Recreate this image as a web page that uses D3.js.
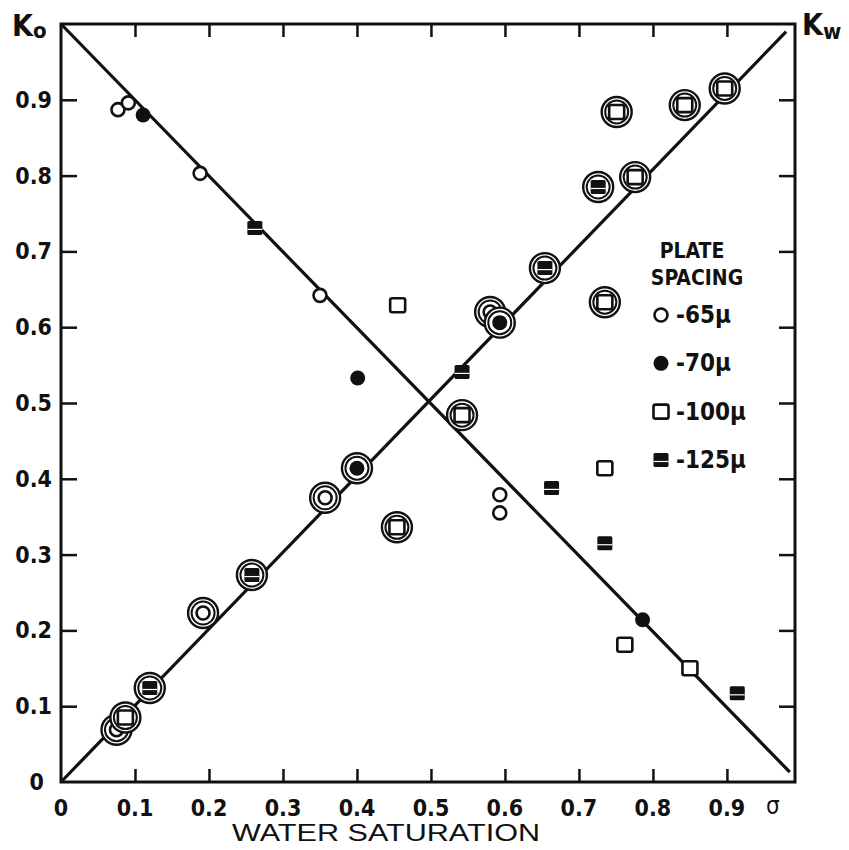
<!DOCTYPE html>
<html>
<head>
<meta charset="utf-8">
<script src="https://cdn.jsdelivr.net/npm/d3@7"></script>
<style>
  body { margin: 0; background: #fff; }
  text { font-family: "Liberation Sans Narrow", "DejaVu Sans Condensed", "Liberation Sans", sans-serif; fill: #111; }
</style>
</head>
<body>
<svg id="chart" width="849" height="850"></svg>
<script>
// Ko points (oil relative permeability), no ring
const koSw   = [0.077, 0.091, 0.111, 0.188, 0.262, 0.350, 0.401, 0.455, 0.542, 0.593, 0.593, 0.663, 0.735, 0.735, 0.786, 0.762, 0.850, 0.914];
const koVal  = [0.887, 0.896, 0.880, 0.803, 0.731, 0.642, 0.533, 0.629, 0.541, 0.379, 0.355, 0.388, 0.414, 0.315, 0.214, 0.181, 0.150, 0.117];
const koType = ["65", "65", "70", "65", "125", "65", "70", "100", "125", "65", "65", "125", "100", "125", "70", "100", "100", "125"];

// Kw points (water relative permeability), drawn with a ring
const kwSw   = [0.075, 0.087, 0.120, 0.192, 0.258, 0.357, 0.400, 0.454, 0.542, 0.580, 0.593, 0.654, 0.726, 0.735, 0.751, 0.776, 0.843, 0.897];
const kwVal  = [0.069, 0.085, 0.124, 0.223, 0.273, 0.375, 0.414, 0.336, 0.484, 0.620, 0.606, 0.678, 0.785, 0.633, 0.884, 0.798, 0.893, 0.915];
const kwType = ["65", "100", "125", "65", "125", "65", "70", "100", "100", "65", "70", "125", "125", "100", "100", "100", "100", "100"];

// straight lines
const koLine = [[0, 1], [0.985, 0.013]];
const kwLine = [[0, 0], [0.98, 0.99]];

const xTicks = [0, 0.1, 0.2, 0.3, 0.4, 0.5, 0.6, 0.7, 0.8, 0.9];
const xTickLabels = ["0", "0.1", "0.2", "0.3", "0.4", "0.5", "0.6", "0.7", "0.8", "0.9"];
const xEndLabel = {v: 0.962, t: "σ"};
const yTicks = [0, 0.1, 0.2, 0.3, 0.4, 0.5, 0.6, 0.7, 0.8, 0.9];
const yTickLabels = ["0", "0.1", "0.2", "0.3", "0.4", "0.5", "0.6", "0.7", "0.8", "0.9"];

const legendTypes = ["65", "70", "100", "125"];
const legendLabels = ["-65μ", "-70μ", "-100μ", "-125μ"];

const svg = d3.select("#chart");
const x = d3.scaleLinear().domain([0, 0.992]).range([61, 795]);
const y = d3.scaleLinear().domain([0, 1]).range([782, 24]);

// frame
svg.append("rect")
  .attr("x", x(0)).attr("y", y(1))
  .attr("width", x(0.992) - x(0)).attr("height", y(0) - y(1))
  .attr("fill", "none").attr("stroke", "#111").attr("stroke-width", 3);

// inward ticks
svg.append("g").attr("transform", `translate(0,${y(0)})`)
  .call(d3.axisTop(x).tickValues(xTicks.slice(1)).tickSize(13).tickFormat(""))
  .call(g => g.select(".domain").remove())
  .selectAll("line").attr("stroke", "#111").attr("stroke-width", 2.5);
svg.append("g").attr("transform", `translate(0,${y(1)})`)
  .call(d3.axisBottom(x).tickValues(xTicks.slice(1)).tickSize(13).tickFormat(""))
  .call(g => g.select(".domain").remove())
  .selectAll("line").attr("stroke", "#111").attr("stroke-width", 2.5);
svg.append("g").attr("transform", `translate(${x(0)},0)`)
  .call(d3.axisRight(y).tickValues(yTicks.slice(1)).tickSize(16).tickFormat(""))
  .call(g => g.select(".domain").remove())
  .selectAll("line").attr("stroke", "#111").attr("stroke-width", 2.5);
svg.append("g").attr("transform", `translate(${x(0.992)},0)`)
  .call(d3.axisLeft(y).tickValues(yTicks.slice(1)).tickSize(16).tickFormat(""))
  .call(g => g.select(".domain").remove())
  .selectAll("line").attr("stroke", "#111").attr("stroke-width", 2.5);

// tick labels
svg.append("g").selectAll("text")
  .data(xTicks)
  .enter().append("text")
    .attr("x", d => x(d))
    .attr("y", 816)
    .attr("text-anchor", "middle")
    .style("font-size", "23px")
    .style("font-weight", "bold")
    .text((d, i) => xTickLabels[i]);
svg.append("text")
  .attr("x", x(xEndLabel.v)).attr("y", 814)
  .attr("text-anchor", "middle")
  .style("font-size", "24px")
  .text(xEndLabel.t);

svg.append("g").selectAll("text")
  .data(yTicks)
  .enter().append("text")
    .attr("x", (d, i) => i === 0 ? 44 : 52)
    .attr("y", d => y(d) + 8)
    .attr("text-anchor", "end")
    .style("font-size", "23px")
    .style("font-weight", "bold")
    .text((d, i) => yTickLabels[i]);

// axis titles
const ko = svg.append("text").attr("x", 12).attr("y", 36)
  .style("font-size", "30px").style("font-weight", "bold");
ko.append("tspan").text("K");
ko.append("tspan").attr("dy", 2).style("font-size", "22px").text("o");
const kw = svg.append("text").attr("x", 802).attr("y", 35)
  .style("font-size", "30px").style("font-weight", "bold");
kw.append("tspan").text("K");
kw.append("tspan").attr("dy", 4).style("font-size", "22px").text("w");

svg.append("text")
  .attr("x", 386).attr("y", 841)
  .attr("text-anchor", "middle")
  .attr("textLength", 308).attr("lengthAdjust", "spacingAndGlyphs")
  .style("font-size", "24px")
  .style("font-family", "'Liberation Sans', sans-serif")
  .text("WATER SATURATION");

// lines
const line = d3.line().x(d => x(d[0])).y(d => y(d[1]));
[koLine, kwLine].forEach(l => {
  svg.append("path").datum(l)
    .attr("d", line)
    .attr("fill", "none").attr("stroke", "#111").attr("stroke-width", 3.2);
});

// marker drawing
function drawMarker(g, type) {
  if (type === "65") {
    g.append("circle").attr("r", 6.5).attr("fill", "#fff").attr("stroke", "#111").attr("stroke-width", 2.6);
  } else if (type === "70") {
    g.append("circle").attr("r", 7.5).attr("fill", "#111");
  } else if (type === "100") {
    g.append("rect").attr("x", -7.5).attr("y", -7).attr("width", 15).attr("height", 14).attr("rx", 2)
      .attr("fill", "#fff").attr("stroke", "#111").attr("stroke-width", 2.6);
  } else {
    g.append("rect").attr("x", -7.5).attr("y", -7).attr("width", 15).attr("height", 14).attr("rx", 1.5)
      .attr("fill", "#111");
    g.append("line").attr("x1", -7.5).attr("x2", 7.5).attr("y1", 1.5).attr("y2", 1.5)
      .attr("stroke", "#fff").attr("stroke-width", 1.2);
  }
}

const kwPts = kwSw.map((s, i) => ({sw: s, k: kwVal[i], type: kwType[i]}));
const koPts = koSw.map((s, i) => ({sw: s, k: koVal[i], type: koType[i]}));

// Kw: ring + symbol
svg.append("g").selectAll("g")
  .data(kwPts)
  .enter().append("g")
    .attr("transform", d => `translate(${x(d.sw)},${y(d.k)})`)
    .each(function(d) {
      const g = d3.select(this);
      g.append("circle").attr("r", 15).attr("fill", "#fff").attr("stroke", "#111").attr("stroke-width", 2.4);
      g.append("circle").attr("r", 11.5).attr("fill", "none").attr("stroke", "#111").attr("stroke-width", 2);
      drawMarker(g, d.type);
    });

// Ko: symbol only
svg.append("g").selectAll("g")
  .data(koPts)
  .enter().append("g")
    .attr("transform", d => `translate(${x(d.sw)},${y(d.k)})`)
    .each(function(d) { drawMarker(d3.select(this), d.type); });

// legend
const lg = svg.append("g");
lg.append("text").attr("x", 692).attr("y", 258).attr("text-anchor", "middle")
  .style("font-size", "21px").style("font-weight", "bold").text("PLATE");
lg.append("text").attr("x", 697).attr("y", 285).attr("text-anchor", "middle")
  .style("font-size", "21px").style("font-weight", "bold").text("SPACING");
const rowY = d3.scaleLinear().domain([0, 3]).range([315, 460]);
legendTypes.forEach((t, i) => {
  const g = lg.append("g").attr("transform", `translate(661,${rowY(i)})`);
  drawMarker(g, t);
  lg.append("text").attr("x", 676).attr("y", rowY(i) + 8)
    .style("font-size", "24px").style("font-weight", "bold")
    .text(legendLabels[i]);
});
</script>
</body>
</html>
